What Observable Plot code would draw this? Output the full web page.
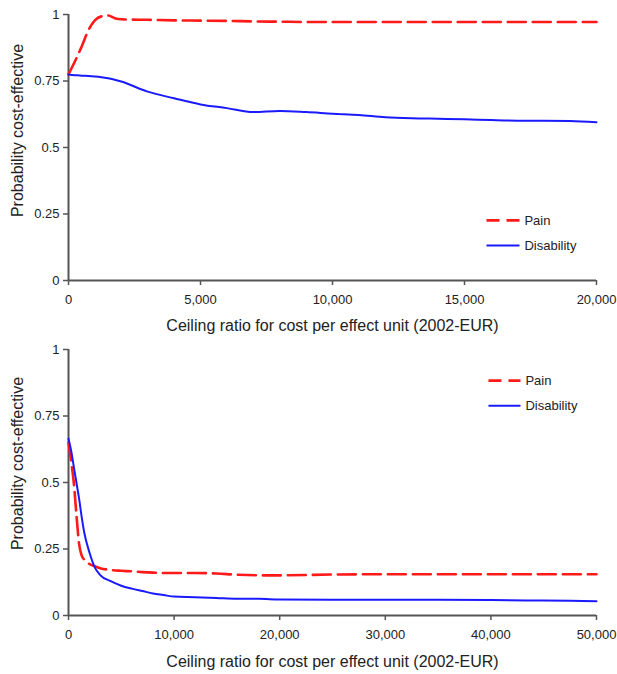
<!DOCTYPE html>
<html><head><meta charset="utf-8">
<script src="https://cdn.jsdelivr.net/npm/d3@7"></script>
<script src="https://cdn.jsdelivr.net/npm/@observablehq/plot@0.6"></script>
<style>body{margin:0;background:#fff;} #c svg{display:block;overflow:visible}</style>
</head><body><div id="c"></div>
<script>
// ---- data ----
const ceilingTop = [0, 250, 500, 750, 1000, 1250, 1500, 1750, 2000, 3000, 4000, 5000, 6000, 7000, 8000, 9000, 10000, 11000, 12000, 13000, 14000, 15000, 16000, 17000, 18000, 19000, 20000];
const painTop = [0.775, 0.825, 0.88, 0.94, 0.978, 0.993, 0.996, 0.986, 0.982, 0.980, 0.978, 0.977, 0.976, 0.974, 0.973, 0.972, 0.972, 0.972, 0.972, 0.972, 0.972, 0.972, 0.972, 0.972, 0.972, 0.972, 0.972];
const disabilityTop = [0.774, 0.772, 0.770, 0.769, 0.767, 0.764, 0.760, 0.755, 0.748, 0.710, 0.685, 0.662, 0.648, 0.633, 0.637, 0.633, 0.627, 0.622, 0.614, 0.610, 0.608, 0.606, 0.603, 0.601, 0.601, 0.600, 0.595];

const ceilingBottom = [0, 250, 500, 750, 1000, 1250, 1500, 2000, 2500, 3000, 4000, 5000, 6000, 7000, 8000, 9000, 10000, 12000, 14000, 16000, 18000, 20000, 25000, 30000, 35000, 40000, 45000, 50000];
const painBottom = [0.65, 0.58, 0.50, 0.38, 0.27, 0.225, 0.21, 0.193, 0.185, 0.178, 0.171, 0.168, 0.166, 0.163, 0.161, 0.160, 0.160, 0.160, 0.158, 0.153, 0.151, 0.151, 0.154, 0.155, 0.155, 0.155, 0.155, 0.155];
const disabilityBottom = [0.665, 0.62, 0.56, 0.50, 0.44, 0.37, 0.31, 0.235, 0.18, 0.152, 0.129, 0.112, 0.101, 0.092, 0.083, 0.077, 0.071, 0.069, 0.066, 0.063, 0.063, 0.060, 0.059, 0.059, 0.059, 0.058, 0.056, 0.054];

const yTicks = [0, 0.25, 0.5, 0.75, 1];
const xTicksTop = [0, 5000, 10000, 15000, 20000];
const xTicksBottom = [0, 10000, 20000, 30000, 40000, 50000];
const seriesNames = ["Pain", "Disability"];
const yTitle = "Probability cost-effective";
const xTitle = "Ceiling ratio for cost per effect unit (2002-EUR)";

const RED = "#ff1a1a", BLUE = "#1a1aff", AXIS = "#555", INK = "#222";
const FONT = "'Liberation Sans', Arial, Helvetica, sans-serif";

function panel(o) {
  const rows = (xs, ys) => xs.map((x, i) => ({x, y: ys[i]}));
  const pain = rows(o.ceiling, o.pain);
  const dis = rows(o.ceiling, o.disability);
  const lx1 = o.legend.x1, lx2 = o.legend.x2, ly1 = o.legend.y1, ly2 = o.legend.y2;
  return Plot.plot({
    width: 617,
    height: o.height,
    marginLeft: 68,
    marginRight: 21,
    marginTop: o.marginTop,
    marginBottom: o.marginBottom,
    style: {fontFamily: FONT, fontSize: "13px", color: INK, background: "#fff"},
    x: {domain: [0, o.xMax]},
    y: {domain: [0, 1]},
    marks: [
      Plot.axisX({ticks: o.xTicks, tickFormat: d3.format(","), tickSize: 5, tickPadding: 9, stroke: AXIS, strokeWidth: 1.5, fill: INK, label: null}),
      Plot.axisY({ticks: yTicks, tickFormat: d => String(d), tickSize: 5, tickPadding: 4, stroke: AXIS, strokeWidth: 1.5, fill: INK, label: null}),
      Plot.ruleX([0], {stroke: AXIS, strokeWidth: 2}),
      Plot.ruleY([0], {stroke: AXIS, strokeWidth: 2}),
      Plot.line(pain, {x: "x", y: "y", stroke: RED, strokeWidth: 2.6, strokeDasharray: "18,7", curve: "monotone-x"}),
      Plot.line(dis, {x: "x", y: "y", stroke: BLUE, strokeWidth: 2, curve: "monotone-x"}),
      // legend
      Plot.link([0], {x1: lx1, x2: lx2, y1: ly1, y2: ly1, stroke: RED, strokeWidth: 2.6, strokeDasharray: "13,7"}),
      Plot.link([0], {x1: lx1, x2: lx2, y1: ly2, y2: ly2, stroke: BLUE, strokeWidth: 2}),
      Plot.text([seriesNames[0]], {x: o.legend.tx, y: ly1, text: d => d, textAnchor: "start", fill: INK, fontSize: 13}),
      Plot.text([seriesNames[1]], {x: o.legend.tx, y: ly2, text: d => d, textAnchor: "start", fill: INK, fontSize: 13}),
      // titles
      Plot.text([yTitle], {frameAnchor: "left", text: d => d, rotate: -90, textAnchor: "middle", lineAnchor: "middle", dx: -51, dy: o.yTitleDy, fill: INK, fontSize: 16}),
      Plot.text([xTitle], {frameAnchor: "bottom", text: d => d, textAnchor: "middle", lineAnchor: "middle", dy: o.xTitleDy, fill: INK, fontSize: 16})
    ]
  });
}

const c = document.getElementById("c");
c.appendChild(panel({
  ceiling: ceilingTop, pain: painTop, disability: disabilityTop,
  xMax: 20000, xTicks: xTicksTop, height: 336, marginTop: 14, marginBottom: 56,
  legend: {x1: 15833, x2: 17083, y1: 0.226, y2: 0.132, tx: 17270},
  yTitleDy: -17, xTitleDy: 45
}));
c.appendChild(panel({
  ceiling: ceilingBottom, pain: painBottom, disability: disabilityBottom,
  xMax: 50000, xTicks: xTicksBottom, height: 338, marginTop: 13, marginBottom: 59,
  legend: {x1: 39770, x2: 42800, y1: 0.883, y2: 0.789, tx: 43270},
  yTitleDy: -19, xTitleDy: 46
}));
</script>
</body></html>
